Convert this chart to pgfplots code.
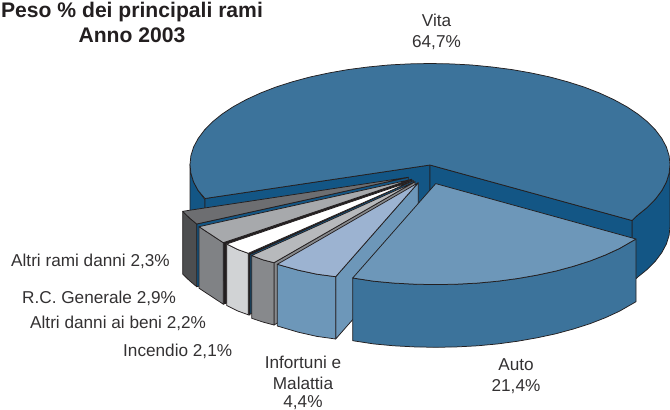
\documentclass[border=0pt]{standalone}
\usepackage{fontspec}
\setmainfont{Liberation Sans}
\usepackage{pgfplots}
\pgfplotsset{compat=1.18}
\definecolor{vitaT}{HTML}{3C739B}
\definecolor{vitaS}{HTML}{135685}
\definecolor{autoT}{HTML}{6D97B9}
\definecolor{autoS}{HTML}{3C739B}
\definecolor{infT}{HTML}{9CB3D1}
\definecolor{infS}{HTML}{6D97B9}
\definecolor{incT}{HTML}{B7B9BC}
\definecolor{incS}{HTML}{87898C}
\definecolor{benT}{HTML}{FFFFFF}
\definecolor{benS}{HTML}{D1D3D5}
\definecolor{rcT}{HTML}{A7A9AC}
\definecolor{rcS}{HTML}{808285}
\definecolor{ramT}{HTML}{6D6E71}
\definecolor{ramS}{HTML}{4D4E50}
\definecolor{ink}{HTML}{231F20}
\definecolor{txt}{HTML}{333132}
\tikzset{pie/.style={draw=ink,line width=0.75bp,line join=round,fill=#1},
 lab/.style={text=txt,font=\fontsize{17.25}{19}\selectfont,inner sep=0pt,anchor=base west},
 labc/.style={text=txt,font=\fontsize{17.25}{19}\selectfont,inner sep=0pt,anchor=base}}
\begin{document}
\begin{tikzpicture}
\useasboundingbox (0,0) rectangle (670bp,410bp);
\begin{axis}[scale only axis,width=670bp,height=410bp,xmin=0,xmax=670,ymin=0,ymax=410,y dir=reverse,axis lines=none,clip=true]
% Vita
\addplot[pie=vitaS] coordinates {(190,164.5)(190.9,173.3)(193.6,182)(198.2,190.6)(205,199.7)(205,261.7)(198.2,252.6)(193.6,244)(190.9,235.3)(190,226.5)} -- cycle;
\addplot[pie=vitaS] coordinates {(670,164.5)(669.1,173.3)(666.4,182)(661.8,190.6)(655.5,199)(647.5,207.2)(637.8,215)(632,220.5)(632,282.5)(637.8,277)(647.5,269.2)(655.5,261)(661.8,252.6)(666.4,244)(669.1,235.3)(670,226.5)} -- cycle;
\addplot[pie=vitaS] coordinates {(205,198.5)(430,165)(430,227)(205,260.5)} -- cycle;
\addplot[pie=vitaS] coordinates {(430,165)(632,220.5)(632,282.5)(430,227)} -- cycle;
\addplot[pie=vitaT] coordinates {(430,165)(205,198.5)(198.2,190.6)(193.6,182)(190.9,173.3)(190,164.5)(190.9,155.7)(193.6,147)(198.2,138.4)(204.5,130)(212.5,121.8)(222.2,114)(233.4,106.6)(246.2,99.6)(260.3,93.1)(275.7,87.1)(292.3,81.8)(310,77)(328.6,73)(347.9,69.6)(367.9,67)(388.3,65)(409.1,63.9)(430,63.5)(450.9,63.9)(471.7,65)(492.1,67)(512.1,69.6)(531.4,73)(550,77)(567.7,81.8)(584.3,87.1)(599.7,93.1)(613.8,99.6)(626.6,106.6)(637.8,114)(647.5,121.8)(655.5,130)(661.8,138.4)(666.4,147)(669.1,155.7)(670,164.5)(669.1,173.3)(666.4,182)(661.8,190.6)(655.5,199)(647.5,207.2)(637.8,215)(632,220.5)} -- cycle;
% Altri rami
\addplot[pie=vitaS] coordinates {(196.7,224)(408.3,177.3)(408.3,240)(196.7,286.7)} -- cycle;
\addplot[pie=ramS] coordinates {(182.7,211.3)(189.5,218)(196.7,224)(196.7,286.7)(189.5,280.7)(182.7,274)} -- cycle;
\addplot[pie=ramT] coordinates {(408.3,177.3)(182.7,211.3)(189.5,218)(196.7,224)} -- cycle;
% R.C.
\addplot[pie=ink] coordinates {(223.3,242.7)(411.7,179.3)(411.7,240.8)(223.3,304.2)} -- cycle;
\addplot[pie=rcS] coordinates {(199,226.7)(211,234.6)(223.3,242.7)(223.3,304.2)(211,296.1)(199,288.2)} -- cycle;
\addplot[pie=rcT] coordinates {(411.7,179.3)(199,226.7)(211,234.6)(223.3,242.7)} -- cycle;
% Altri danni ai beni
\addplot[pie=vitaS] coordinates {(248.3,253.3)(413.3,180.7)(413.3,242.2)(248.3,314.8)} -- cycle;
\addplot[pie=ink] coordinates {(248.3,253.3)(413.3,180.7)(250,254.6)(250,315)(248.3,314.8)} -- cycle;
\addplot[pie=benS] coordinates {(226.7,244)(237.5,249.4)(248.3,253.3)(248.3,314.8)(237.5,310.9)(226.7,305.5)} -- cycle;
\addplot[pie=benT] coordinates {(413.3,180.7)(226.7,244)(237.5,249.4)(248.3,253.3)} -- cycle;
% Incendio
\addplot[pie=incS] coordinates {(274,262.7)(415,181.7)(415,244)(274,325)} -- cycle;
\addplot[pie=incS] coordinates {(251.7,255.5)(262.8,259.8)(274,262.7)(274,325)(262.8,322)(251.7,318.3)} -- cycle;
\addplot[pie=incT] coordinates {(415,181.7)(251.7,255.5)(262.8,259.8)(274,262.7)} -- cycle;
% Infortuni
\addplot[pie=infS] coordinates {(335.7,276.7)(418.3,182.7)(418.3,244.7)(335.7,339)} -- cycle;
\addplot[pie=infS] coordinates {(277.3,264.3)(298.3,270.2)(316.9,274.2)(335.7,276.7)(335.7,339)(316.9,336.4)(298.3,332.2)(277.3,326)} -- cycle;
\addplot[pie=infT] coordinates {(418.3,182.7)(277.3,264.3)(298.3,270.2)(316.9,274.2)(335.7,276.7)} -- cycle;
% Auto
\addplot[pie=autoS] coordinates {(352.7,278)(373.6,281.2)(394,283.1)(414.8,284.2)(435.7,284.6)(456.6,284.2)(477.4,283.1)(497.8,281.2)(517.8,278.5)(537.1,275.1)(555.7,271.1)(573.4,266.3)(590,261)(605.4,255)(619.5,248.5)(636,239)(636,301.7)(619.5,311.2)(605.4,317.7)(590,323.7)(573.4,329)(555.7,333.8)(537.1,337.8)(517.8,341.2)(497.8,343.9)(477.4,345.8)(456.6,346.9)(435.7,347.3)(414.8,346.9)(394,345.8)(373.6,343.9)(352.7,340.7)} -- cycle;
\addplot[pie=autoT] coordinates {(435.7,183.6)(352.7,278)(373.6,281.2)(394,283.1)(414.8,284.2)(435.7,284.6)(456.6,284.2)(477.4,283.1)(497.8,281.2)(517.8,278.5)(537.1,275.1)(555.7,271.1)(573.4,266.3)(590,261)(605.4,255)(619.5,248.5)(636,239)} -- cycle;
% Text
\node[labc] at (axis cs:436.5,26) {Vita};
\node[labc] at (axis cs:436.5,47) {64,7\%};
\node[labc] at (axis cs:516,370) {Auto};
\node[labc] at (axis cs:516,391) {21,4\%};
\node[labc] at (axis cs:303,368) {Infortuni e};
\node[labc] at (axis cs:303,389) {Malattia};
\node[labc] at (axis cs:303,407.5) {4,4\%};
\node[lab] at (axis cs:11,266) {Altri rami danni 2,3\%};
\node[lab] at (axis cs:22,303) {R.C. Generale 2,9\%};
\node[lab] at (axis cs:30,328) {Altri danni ai beni 2,2\%};
\node[lab] at (axis cs:123,356) {Incendio 2,1\%};
\node[text=ink,font=\fontsize{21.2}{24}\bfseries\selectfont,inner sep=0pt,anchor=base] at (axis cs:132,17.5) {Peso \% dei principali rami};
\node[text=ink,font=\fontsize{21.2}{24}\bfseries\selectfont,inner sep=0pt,anchor=base] at (axis cs:132,42.5) {Anno 2003};
\end{axis}
\end{tikzpicture}
\end{document}
